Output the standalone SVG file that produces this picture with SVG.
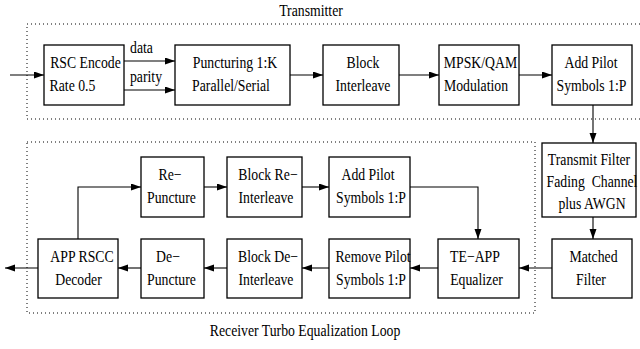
<svg xmlns="http://www.w3.org/2000/svg" width="640" height="349" viewBox="0 0 640 349">
<style>
.box{fill:#fff;stroke:#000;stroke-width:1.3}
.t{font-family:"Liberation Serif","Times New Roman",serif;font-size:16px;fill:#000;text-anchor:middle}
.c{fill:none;stroke:#000;stroke-width:1.1}
.dot{fill:none;stroke:#000;stroke-width:1;stroke-dasharray:1 3}
</style>
<defs>
<marker id="ah" markerUnits="userSpaceOnUse" markerWidth="11" markerHeight="8" refX="10" refY="3.5" orient="auto">
<path d="M0,0 L10,3.5 L0,7 z" fill="#000"/>
</marker>
</defs>
<g id="transmitter-region">
<path class="dot" d="M640,24 H27 V119 H640"/>
<text class="t" transform="translate(311,16) scale(0.86,1)">Transmitter</text>
</g>
<g id="receiver-region">
<path class="dot" d="M27,142 H535 V313 H27 Z"/>
<text class="t" transform="translate(305,336) scale(0.86,1)">Receiver Turbo Equalization Loop</text>
</g>
<g id="connectors">
<path class="c" d="M10,75 H44" marker-end="url(#ah)"/>
<path class="c" d="M124,61 H175" marker-end="url(#ah)"/>
<path class="c" d="M124,90 H175" marker-end="url(#ah)"/>
<text class="t" transform="translate(141.5,53) scale(0.86,1)">data</text>
<text class="t" transform="translate(146,82) scale(0.86,1)">parity</text>
<path class="c" d="M290,75 H323" marker-end="url(#ah)"/>
<path class="c" d="M399,75 H439" marker-end="url(#ah)"/>
<path class="c" d="M519,75 H552" marker-end="url(#ah)"/>
<path class="c" d="M593,105 V143" marker-end="url(#ah)"/>
<path class="c" d="M593,217 V239" marker-end="url(#ah)"/>
<path class="c" d="M552,268 H519" marker-end="url(#ah)"/>
<path class="c" d="M438,268 H410" marker-end="url(#ah)"/>
<path class="c" d="M329,268 H302" marker-end="url(#ah)"/>
<path class="c" d="M227,268 H204" marker-end="url(#ah)"/>
<path class="c" d="M141,268 H118" marker-end="url(#ah)"/>
<path class="c" d="M38,268 H5" marker-end="url(#ah)"/>
<path class="c" d="M78,239 V187 H141" marker-end="url(#ah)"/>
<path class="c" d="M204,187 H227" marker-end="url(#ah)"/>
<path class="c" d="M302,187 H329" marker-end="url(#ah)"/>
<path class="c" d="M410,187 H478 V239" marker-end="url(#ah)"/>
</g>
<g id="rsc-encode">
<rect class="box" x="44" y="45" width="80" height="60"/>
<text class="t" transform="translate(85.5,68) scale(0.86,1)">RSC Encode</text>
<text class="t" transform="translate(72.5,91) scale(0.86,1)">Rate 0.5</text>
</g>
<g id="puncturing">
<rect class="box" x="175" y="45" width="115" height="60"/>
<text class="t" transform="translate(235,68) scale(0.86,1)">Puncturing 1:K</text>
<text class="t" transform="translate(231,91) scale(0.86,1)">Parallel/Serial</text>
</g>
<g id="block-interleave">
<rect class="box" x="323" y="45" width="76" height="60"/>
<text class="t" transform="translate(363,68) scale(0.86,1)">Block</text>
<text class="t" transform="translate(363,91) scale(0.86,1)">Interleave</text>
</g>
<g id="mpsk-qam">
<rect class="box" x="439" y="45" width="80" height="60"/>
<text class="t" transform="translate(480.5,68) scale(0.86,1)">MPSK/QAM</text>
<text class="t" transform="translate(476,91) scale(0.86,1)">Modulation</text>
</g>
<g id="add-pilot-tx">
<rect class="box" x="552" y="45" width="80" height="60"/>
<text class="t" transform="translate(591,68) scale(0.86,1)">Add Pilot</text>
<text class="t" transform="translate(591.5,91) scale(0.86,1)">Symbols 1:P</text>
</g>
<g id="channel">
<rect class="box" x="542" y="143" width="94" height="74"/>
<text class="t" transform="translate(589,165) scale(0.86,1)">Transmit Filter</text>
<text class="t" transform="translate(592,187) scale(0.86,1)" xml:space="preserve">Fading  Channel</text>
<text class="t" transform="translate(592,209) scale(0.86,1)">plus AWGN</text>
</g>
<g id="matched-filter">
<rect class="box" x="552" y="239" width="80" height="59"/>
<text class="t" transform="translate(593.5,262) scale(0.86,1)">Matched</text>
<text class="t" transform="translate(591,285) scale(0.86,1)">Filter</text>
</g>
<g id="te-app-equalizer">
<rect class="box" x="438" y="239" width="81" height="59"/>
<text class="t" transform="translate(475,262) scale(0.86,1)">TE−APP</text>
<text class="t" transform="translate(476.5,285) scale(0.86,1)">Equalizer</text>
</g>
<g id="remove-pilot">
<rect class="box" x="329" y="239" width="81" height="59"/>
<text class="t" transform="translate(373,262) scale(0.86,1)">Remove Pilot</text>
<text class="t" transform="translate(371,285) scale(0.86,1)">Symbols 1:P</text>
</g>
<g id="block-deinterleave">
<rect class="box" x="227" y="239" width="75" height="59"/>
<text class="t" transform="translate(268,262) scale(0.86,1)">Block De−</text>
<text class="t" transform="translate(266,285) scale(0.86,1)">Interleave</text>
</g>
<g id="de-puncture">
<rect class="box" x="141" y="239" width="63" height="59"/>
<text class="t" transform="translate(168,262) scale(0.86,1)">De−</text>
<text class="t" transform="translate(171.5,285) scale(0.86,1)">Puncture</text>
</g>
<g id="app-rscc-decoder">
<rect class="box" x="38" y="239" width="80" height="59"/>
<text class="t" transform="translate(82,262) scale(0.86,1)">APP RSCC</text>
<text class="t" transform="translate(78.5,285) scale(0.86,1)">Decoder</text>
</g>
<g id="re-puncture">
<rect class="box" x="141" y="157" width="63" height="60"/>
<text class="t" transform="translate(170,180) scale(0.86,1)">Re−</text>
<text class="t" transform="translate(171.5,203) scale(0.86,1)">Puncture</text>
</g>
<g id="block-reinterleave">
<rect class="box" x="227" y="157" width="75" height="60"/>
<text class="t" transform="translate(268,180) scale(0.86,1)">Block Re−</text>
<text class="t" transform="translate(266,203) scale(0.86,1)">Interleave</text>
</g>
<g id="add-pilot-rx">
<rect class="box" x="329" y="157" width="81" height="60"/>
<text class="t" transform="translate(368,180) scale(0.86,1)">Add Pilot</text>
<text class="t" transform="translate(371,203) scale(0.86,1)">Symbols 1:P</text>
</g>
</svg>
